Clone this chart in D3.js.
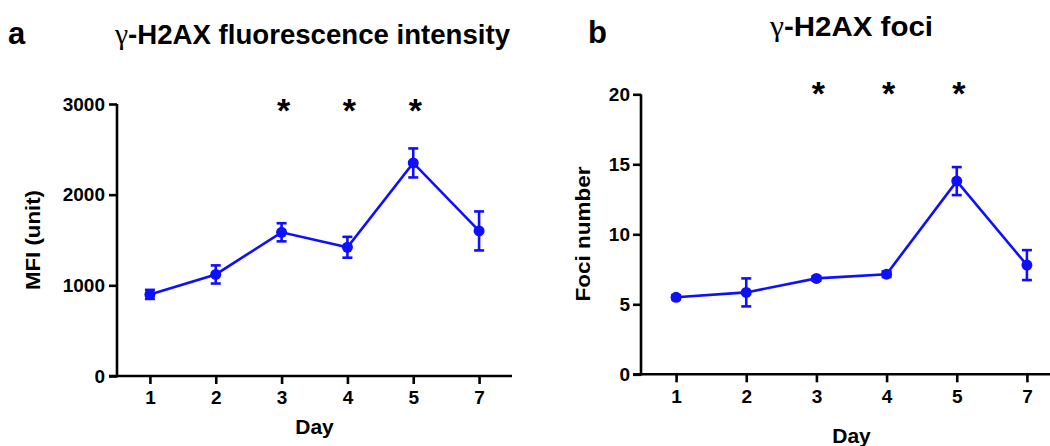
<!DOCTYPE html>
<html>
<head>
<meta charset="utf-8">
<script src="https://cdn.jsdelivr.net/npm/d3@7"></script>
<style>
  html, body { margin: 0; padding: 0; background: #fff; }
  svg { display: block; }
  text { font-family: "Liberation Sans", Arial, Helvetica, sans-serif; font-weight: bold; fill: #000; }
</style>
</head>
<body>
<svg id="chart" width="1050" height="446"></svg>
<script>
// ---- data ----
const days = ["1", "2", "3", "4", "5", "7"];
const mfiMean = [900, 1120, 1585, 1420, 2350, 1600];
const mfiErr = [50, 100, 100, 115, 160, 215];
const fociMean = [5.5, 5.85, 6.85, 7.15, 13.8, 7.8];
const fociErr = [0.15, 1.0, 0.15, 0.2, 1.0, 1.07];
const mfiTicks = [0, 1000, 2000, 3000];
const fociTicks = [0, 5, 10, 15, 20];
const sigDays = ["3", "4", "5"];

const blue = "#0f0fff";
const svg = d3.select("#chart");

function drawPanel(opt) {
  const g = svg.append("g");
  const x = d3.scalePoint().domain(days).range(opt.xRange).padding(0.5);
  const y = d3.scaleLinear().domain(opt.yDomain).range(opt.yRange);

  // axes
  const ya = g.append("g")
    .attr("transform", `translate(${opt.xRange[0]},0)`)
    .call(d3.axisLeft(y).tickValues(opt.ticks).tickFormat(d3.format("d"))
      .tickSize(8).tickSizeOuter(0).tickPadding(opt.yPad));
  const xa = g.append("g")
    .attr("transform", `translate(0,${opt.yRange[0]})`)
    .call(d3.axisBottom(x).tickSize(8).tickSizeOuter(0).tickPadding(7));
  [ya, xa].forEach(a => {
    a.attr("font-family", null).attr("font-size", null);
    a.selectAll("path, line").attr("stroke", "#000").attr("stroke-width", 2.6);
    a.selectAll("text").style("font-size", "19px");
  });
  xa.select("path.domain").attr("d", `M${opt.xRange[0] - 8},0H${opt.xRange[1]}`);
  ya.select("path.domain").attr("d", `M0,${opt.yRange[1]}V${opt.yRange[0] + 1.3}`);

  // line
  const pts = days.map((d, i) => ({ d, m: opt.mean[i], e: opt.err[i] }));
  g.append("path").datum(pts)
    .attr("fill", "none").attr("stroke", blue).attr("stroke-width", 2.6)
    .attr("d", d3.line().x(p => x(p.d)).y(p => y(p.m)));

  // error bars
  const eb = g.append("g").selectAll("g").data(pts).join("g");
  eb.append("line")
    .attr("x1", p => x(p.d)).attr("x2", p => x(p.d))
    .attr("y1", p => y(p.m - p.e)).attr("y2", p => y(p.m + p.e))
    .attr("stroke", blue).attr("stroke-width", 2.6);
  [-1, 1].forEach(s => {
    eb.append("line")
      .attr("x1", p => x(p.d) - 5).attr("x2", p => x(p.d) + 5)
      .attr("y1", p => y(p.m + s * p.e)).attr("y2", p => y(p.m + s * p.e))
      .attr("stroke", blue).attr("stroke-width", 2.6);
  });
  eb.append("circle")
    .attr("cx", p => x(p.d)).attr("cy", p => y(p.m)).attr("r", 5.5)
    .attr("fill", blue);

  // significance stars
  g.append("g").selectAll("text").data(sigDays).join("text")
    .attr("x", d => x(d) + 2).attr("y", opt.starY)
    .attr("text-anchor", "middle").style("font-size", "34px")
    .text("*");

  // axis titles
  g.append("text")
    .attr("x", (opt.xRange[0] + opt.xRange[1]) / 2).attr("y", opt.dayY)
    .attr("text-anchor", "middle").style("font-size", "21px").text("Day");
  g.append("text")
    .attr("transform", `translate(${opt.yLabX},${opt.yLabY}) rotate(-90)`)
    .attr("text-anchor", "middle").style("font-size", "21px")
    .attr("textLength", opt.yLabLen).attr("lengthAdjust", "spacingAndGlyphs")
    .text(opt.yLabel);

  // panel title (gamma in a serif face) and letter
  const t = g.append("text")
    .attr("x", opt.titleX).attr("y", opt.titleY)
    .style("font-size", "27px")
    .attr("textLength", opt.titleLen).attr("lengthAdjust", "spacingAndGlyphs");
  t.append("tspan").style("font-family", '"Liberation Serif", "DejaVu Serif", serif')
    .style("font-weight", "normal").style("font-size", "29px").text(opt.title[0]);
  t.append("tspan").text(opt.title.slice(1));
  g.append("text")
    .attr("x", opt.letterX).attr("y", opt.letterY)
    .style("font-size", "31px").text(opt.letter);
}

drawPanel({
  xRange: [117, 512], yDomain: [0, 3000], yRange: [376, 104], ticks: mfiTicks, yPad: 4,
  mean: mfiMean, err: mfiErr, starY: 122,
  dayY: 434, yLabel: "MFI (unit)", yLabX: 40, yLabY: 240, yLabLen: 100,
  title: "γ-H2AX fluorescence intensity", titleX: 115, titleY: 44, titleLen: 395,
  letter: "a", letterX: 8, letterY: 44
});
drawPanel({
  xRange: [641, 1062], yDomain: [0, 20], yRange: [374.3, 94.3], ticks: fociTicks, yPad: 3,
  mean: fociMean, err: fociErr, starY: 105,
  dayY: 443, yLabel: "Foci number", yLabX: 590, yLabY: 234, yLabLen: 135,
  title: "γ-H2AX foci", titleX: 770, titleY: 36, titleLen: 163,
  letter: "b", letterX: 588, letterY: 43
});
</script>
</body>
</html>
